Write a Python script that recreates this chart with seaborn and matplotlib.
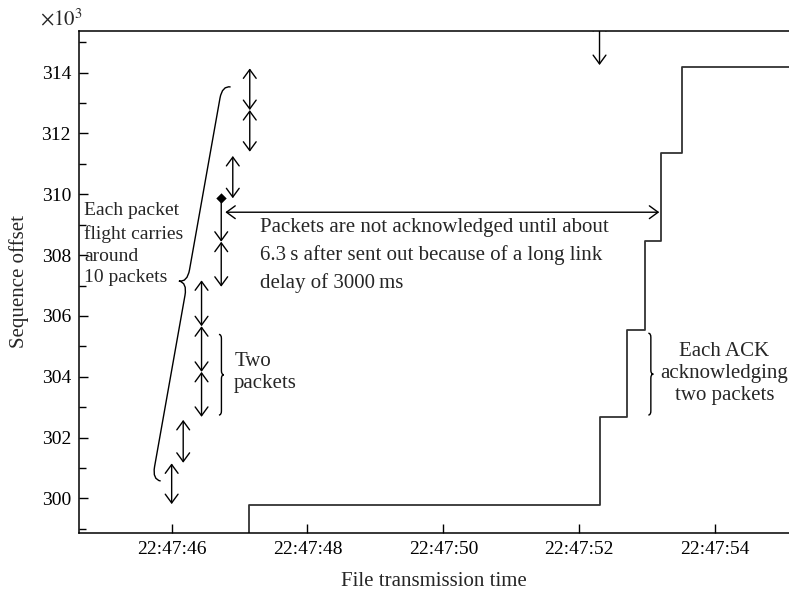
import numpy as np
import pandas as pd
import matplotlib
matplotlib.use("Agg")
import matplotlib.pyplot as plt
import seaborn as sns
from matplotlib.patches import FancyArrowPatch, PathPatch
from matplotlib.path import Path
from matplotlib.ticker import FixedLocator, FixedFormatter

# ---------------- data ----------------
# ACK step line (seconds after 22:47:00, sequence offset in thousands)
ack_time = [47.14, 47.14, 52.31, 52.71, 52.97, 53.21, 53.52, 55.30]
ack_seq = [298.60, 299.77, 302.68, 305.54, 308.46, 311.37, 314.20, 314.20]

# data packets: send time, start offset, end offset
pkt_time = [46.00, 46.17, 46.44, 46.44, 46.44, 46.73, 46.73, 46.90, 47.15, 47.15, 52.30]
pkt_lo = [299.81, 301.17, 302.68, 304.16, 305.66, 306.96, 308.44, 309.87, 311.40, 312.77, 314.25]
pkt_hi = [301.15, 302.58, 304.16, 305.66, 307.17, 308.44, 309.87, 311.26, 312.77, 314.14, 315.70]
pkt_style = ["<->", "<->", "<->", "<->", "<->", "<->", "<-", "<->", "<->", "<->", "<->"]

marker_time = [46.73]
marker_seq = [309.87]

delay_span_time = [46.79, 53.18]
delay_span_seq = [309.41, 309.41]

xtick_secs = [46, 48, 50, 52, 54]
xtick_labels = ["22:47:46", "22:47:48", "22:47:50", "22:47:52", "22:47:54"]
ytick_major = [300, 302, 304, 306, 308, 310, 312, 314]
ytick_minor = [299, 301, 303, 305, 307, 309, 311, 313, 315]

x_limits = (44.64, 55.09)
y_limits = (298.87, 315.37)

# ---------------- style ----------------
sns.set_theme(style="ticks")
plt.rcParams["font.family"] = ["Liberation Serif", "DejaVu Serif"]
plt.rcParams["mathtext.fontset"] = "stix"
FS = 14      # tick labels
FA = 15      # annotations / axis labels

fig = plt.figure(figsize=(7.89, 5.95), dpi=100)
ax = fig.add_axes([0.1005, 0.1047, 0.8995, 0.8432])
ax.set_xlim(*x_limits)
ax.set_ylim(*y_limits)

df = pd.DataFrame({"t": ack_time, "seq": ack_seq})
sns.lineplot(data=df, x="t", y="seq", estimator=None, sort=False,
             drawstyle="steps-post", color="#333333", lw=1.3, ax=ax)

def arrow(p0, p1, style):
    a = FancyArrowPatch(p0, p1, arrowstyle=style + ",head_length=6.3,head_width=4.6",
                        mutation_scale=1, shrinkA=0, shrinkB=0, lw=1.0,
                        color="black", zorder=3)
    ax.add_patch(a)

for t, lo, hi, st in zip(pkt_time, pkt_lo, pkt_hi, pkt_style):
    arrow((t, lo), (t, hi), st)

arrow((delay_span_time[0], delay_span_seq[0]), (delay_span_time[1], delay_span_seq[1]), "<->")

sns.scatterplot(x=marker_time, y=marker_seq, marker="D", s=28, color="black",
                edgecolor="black", linewidth=0, zorder=4, ax=ax)

ax.set_xlim(*x_limits)
ax.set_ylim(*y_limits)

def brace(p0, p1, depth, hook, side, lw=1.0):
    T = ax.transData
    a = np.array(T.transform(p0), float)
    b = np.array(T.transform(p1), float)
    d = b - a
    L = np.hypot(*d)
    d = d / L
    n = np.array([-d[1], d[0]]) * side
    P = lambda u, w: a + u * d + w * n
    h = depth
    m = L / 2
    verts = [P(0, 0), P(0, h / 2), P(hook, h / 2), P(m - hook, h / 2), P(m, h / 2), P(m, h),
             P(m, h / 2), P(m + hook, h / 2), P(L - hook, h / 2), P(L, h / 2), P(L, 0)]
    codes = [Path.MOVETO, Path.CURVE3, Path.CURVE3, Path.LINETO, Path.CURVE3, Path.CURVE3,
             Path.CURVE3, Path.CURVE3, Path.LINETO, Path.CURVE3, Path.CURVE3]
    vd = T.inverted().transform(np.array(verts))
    ax.add_patch(PathPatch(Path(vd, codes), fill=False, lw=lw, edgecolor="black", zorder=3))

brace((45.838, 300.57), (46.868, 313.53), 17, 13, +1)
brace((46.696, 302.74), (46.696, 305.39), 5, 4, -1)
brace((53.019, 302.74), (53.019, 305.43), 5, 4, -1)

# ---------------- annotations ----------------
ax.text(44.71, 308.35, "Each packet\nflight carries\naround\n10 packets", fontsize=14,
        ha="left", va="center", linespacing=1.38)
ax.text(47.30, 307.99, "Packets are not acknowledged until about\n6.3\u2009s after sent out because of a long link\ndelay of 3000\u2009ms",
        fontsize=FA, ha="left", va="center", linespacing=1.55)
ax.text(46.92, 304.14, "Two\npackets", fontsize=FA, ha="left", va="center", linespacing=1.25)
ax.text(54.14, 304.11, "Each ACK\nacknowledging\ntwo packets", fontsize=FA, ha="center",
        va="center", linespacing=1.22)

fig.text(40 / 789, 1 - 25 / 595, r"$\times 10^{3}$", fontsize=FA, ha="left", va="baseline")

# ---------------- axes ----------------
ax.xaxis.set_major_locator(FixedLocator(xtick_secs))
ax.xaxis.set_major_formatter(FixedFormatter(xtick_labels))
ax.yaxis.set_major_locator(FixedLocator(ytick_major))
ax.yaxis.set_minor_locator(FixedLocator(ytick_minor))
ax.xaxis.set_minor_locator(FixedLocator([]))
ax.tick_params(axis="both", which="major", direction="in", length=6.5, width=1.0,
               labelsize=FS, pad=6, color="black", labelcolor="black")
ax.tick_params(axis="y", which="minor", direction="in", length=5, width=1.0, color="black")
ax.tick_params(top=False, right=False)

for s in ["left", "bottom", "top"]:
    ax.spines[s].set_visible(True)
    ax.spines[s].set_linewidth(1.1)
    ax.spines[s].set_color("black")
ax.spines["right"].set_visible(False)

ax.set_xlabel("File transmission time", fontsize=FA)
ax.set_ylabel("Sequence offset", fontsize=FA)
ax.xaxis.set_label_coords(0.5, -0.078)
ax.yaxis.set_label_coords(-0.071, 0.5)

fig.savefig("out.png", dpi=100)
